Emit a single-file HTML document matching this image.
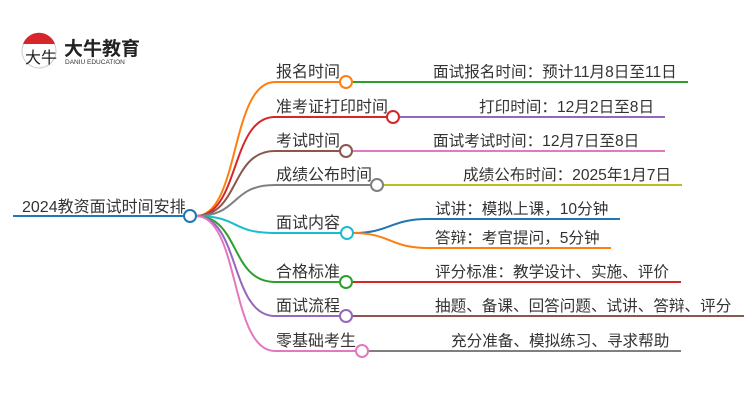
<!DOCTYPE html>
<html><head><meta charset="utf-8"><style>
html,body{margin:0;padding:0;background:#fff;width:750px;height:410px;overflow:hidden}
svg text{font-family:"Liberation Sans","Noto Sans CJK SC",sans-serif;fill:#333}
</style></head><body>
<svg width="750" height="410" viewBox="0 0 750 410" xmlns="http://www.w3.org/2000/svg">
<!-- logo -->
<circle cx="39" cy="51" r="17" fill="#fff" stroke="#ccc" stroke-width="1"/>
<path d="M23 44 A17 17 0 0 1 55 44 Z" fill="#d7262b"/>
<text x="25" y="63" font-size="16" style="fill:#222">大牛</text>
<text x="64" y="55" font-size="19" font-weight="bold" style="fill:#222">大牛教育</text>
<text x="65" y="64" font-size="6.5" style="fill:#333">DANIU EDUCATION</text>

<g fill="none" stroke-width="2">
<line x1="13" y1="216" x2="184" y2="216" stroke="#1f77b4"/>
<path d="M196 216 C240 216 230 82 275 82 L340 82" stroke="#ff7f0e"/>
<path d="M196 216 C240 216 230 117 275 117 L387 117" stroke="#d62728"/>
<path d="M196 216 C240 216 230 151 275 151 L340 151" stroke="#8c564b"/>
<path d="M196 216 C240 216 230 185 275 185 L371 185" stroke="#7f7f7f"/>
<path d="M196 216 C240 216 230 233 275 233 L341 233" stroke="#17becf"/>
<path d="M196 216 C240 216 230 282 275 282 L340 282" stroke="#2ca02c"/>
<path d="M196 216 C240 216 230 316 275 316 L340 316" stroke="#9467bd"/>
<path d="M196 216 C240 216 230 351 275 351 L356 351" stroke="#e377c2"/>
<line x1="352" y1="82" x2="688" y2="82" stroke="#2ca02c"/>
<line x1="399" y1="117" x2="665" y2="117" stroke="#9467bd"/>
<line x1="352" y1="151" x2="665" y2="151" stroke="#e377c2"/>
<line x1="383" y1="185" x2="682" y2="185" stroke="#bcbd22"/>
<path d="M353 233 C390 233 390 219 428 219 L620 219" stroke="#1f77b4"/>
<path d="M353 233 C390 233 390 248 428 248 L611 248" stroke="#ff7f0e"/>
<line x1="352" y1="282" x2="681" y2="282" stroke="#d62728"/>
<line x1="352" y1="316" x2="744" y2="316" stroke="#8c564b"/>
<line x1="368" y1="351" x2="681" y2="351" stroke="#7f7f7f"/>
<circle cx="190" cy="216" r="6" fill="#fff" stroke="#1f77b4"/>
<circle cx="346" cy="82" r="6" fill="#fff" stroke="#ff7f0e"/>
<circle cx="393" cy="117" r="6" fill="#fff" stroke="#d62728"/>
<circle cx="346" cy="151" r="6" fill="#fff" stroke="#8c564b"/>
<circle cx="377" cy="185" r="6" fill="#fff" stroke="#7f7f7f"/>
<circle cx="347" cy="233" r="6" fill="#fff" stroke="#17becf"/>
<circle cx="346" cy="282" r="6" fill="#fff" stroke="#2ca02c"/>
<circle cx="346" cy="316" r="6" fill="#fff" stroke="#9467bd"/>
<circle cx="362" cy="351" r="6" fill="#fff" stroke="#e377c2"/>
</g>
<text x="22" y="212" font-size="16">2024教资面试时间安排</text>
<g font-size="16">
<text x="276" y="77">报名时间</text>
<text x="276" y="112">准考证打印时间</text>
<text x="276" y="146">考试时间</text>
<text x="276" y="180">成绩公布时间</text>
<text x="276" y="228">面试内容</text>
<text x="276" y="277">合格标准</text>
<text x="276" y="311">面试流程</text>
<text x="276" y="346">零基础考生</text>
</g>
<g font-size="15.6">
<text x="433" y="77">面试报名时间：预计11月8日至11日</text>
<text x="479" y="112">打印时间：12月2日至8日</text>
<text x="433" y="146">面试考试时间：12月7日至8日</text>
<text x="463" y="180">成绩公布时间：2025年1月7日</text>
<text x="435" y="214">试讲：模拟上课，10分钟</text>
<text x="435" y="243">答辩：考官提问，5分钟</text>
<text x="435" y="277">评分标准：教学设计、实施、评价</text>
<text x="435" y="311">抽题、备课、回答问题、试讲、答辩、评分</text>
<text x="451" y="346">充分准备、模拟练习、寻求帮助</text>
</g>
</svg>
</body></html>
